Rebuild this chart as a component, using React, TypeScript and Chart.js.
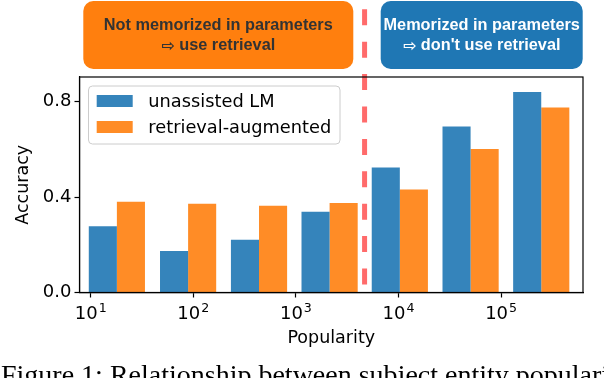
import React, { useEffect, useRef } from 'react';
import { Chart, registerables } from 'chart.js';

Chart.register(...registerables);

// ---- data ----
const popularityBins = [18, 89, 437, 2130, 10300, 50400, 246000];
const unassistedLM = [0.278, 0.174, 0.221, 0.339, 0.524, 0.696, 0.841];
const retrievalAugmented = [0.381, 0.372, 0.364, 0.375, 0.432, 0.602, 0.776];
const seriesLabels = ['unassisted LM', 'retrieval-augmented'];
const xTickValues = [10, 100, 1000, 10000, 100000];
const xTickBase = '10';
const xTickExponents = ['1', '2', '3', '4', '5'];
const yTickValues = [0, 0.4, 0.8];
const yTickLabels = ['0.0', '0.4', '0.8'];
const thresholdPopularity = 4670;
const leftBoxLines = ['Not memorized in parameters', '⇨ use retrieval'];
const rightBoxLines = ['Memorized in parameters', "⇨ don't use retrieval"];
const xTitle = 'Popularity';
const yTitle = 'Accuracy';
const caption = 'Figure 1: Relationship between subject entity popularity and';

const BLUE = 'rgba(31,119,180,0.9)';
const ORANGE = 'rgba(255,127,14,0.9)';
const SANS = '"DejaVu Sans", sans-serif';
const BOXFONT = 'bold 16.3px "Liberation Sans", Arial, sans-serif';
const ARROWFONT = 'bold 16px "DejaVu Sans", sans-serif';

const decorPlugin = {
  id: 'decor',
  afterDatasetsDraw(chart: any) {
    const ctx = chart.ctx;
    const xs = chart.scales.x;
    const tx = xs.getPixelForValue(thresholdPopularity);
    ctx.save();
    ctx.strokeStyle = '#ff6b6b';
    ctx.lineWidth = 5;
    ctx.setLineDash([16, 16.4]);
    ctx.beginPath();
    ctx.moveTo(tx, 9.3);
    ctx.lineTo(tx, 285);
    ctx.stroke();
    ctx.restore();
  },
  afterDraw(chart: any) {
    const ctx = chart.ctx;
    const a = chart.chartArea;
    const xs = chart.scales.x;
    ctx.save();
    // frame
    ctx.strokeStyle = '#000';
    ctx.lineWidth = 1.2;
    ctx.strokeRect(a.left, a.top, a.right - a.left, a.bottom - a.top);

    // x tick labels: 10 with superscript exponent
    ctx.fillStyle = '#000';
    ctx.textBaseline = 'alphabetic';
    ctx.textAlign = 'left';
    xTickValues.forEach((v, i) => {
      const px = xs.getPixelForValue(v);
      ctx.font = `18px ${SANS}`;
      const wb = ctx.measureText(xTickBase).width;
      ctx.font = `12.6px ${SANS}`;
      const we = ctx.measureText(xTickExponents[i]).width;
      const x0 = px - (wb + we + 1) / 2;
      ctx.font = `18px ${SANS}`;
      ctx.fillText(xTickBase, x0, 319);
      ctx.font = `12.6px ${SANS}`;
      ctx.fillText(xTickExponents[i], x0 + wb + 1, 311.5);
    });

    // legend
    const lx = 88.5, ly = 86, lw = 251.5, lh = 58;
    ctx.beginPath();
    ctx.roundRect(lx, ly, lw, lh, 4);
    ctx.fillStyle = 'rgba(255,255,255,0.8)';
    ctx.fill();
    ctx.strokeStyle = '#cccccc';
    ctx.lineWidth = 1;
    ctx.stroke();
    ctx.font = `17.8px ${SANS}`;
    ctx.textBaseline = 'middle';
    ctx.textAlign = 'left';
    chart.data.datasets.forEach((ds: any, i: number) => {
      const cy = 101 + i * 26;
      ctx.fillStyle = ds.backgroundColor;
      ctx.fillRect(96.7, cy - 6, 36, 12);
      ctx.fillStyle = '#000';
      ctx.fillText(ds.label, 148.3, cy + 1);
    });

    // axis titles
    ctx.fillStyle = '#000';
    ctx.font = `17.5px ${SANS}`;
    ctx.textAlign = 'center';
    ctx.textBaseline = 'middle';
    ctx.fillText(xTitle, (a.left + a.right) / 2, 338.5);
    ctx.save();
    ctx.translate(23, (a.top + a.bottom) / 2);
    ctx.rotate(-Math.PI / 2);
    ctx.fillText(yTitle, 0, 0);
    ctx.restore();

    // top boxes
    const drawLine = (t: string, cx: number, cy: number) => {
      ctx.textAlign = 'left';
      ctx.textBaseline = 'middle';
      if (t.startsWith('⇨')) {
        const arrow = '⇨';
        const rest = t.slice(1);
        ctx.font = ARROWFONT;
        const wa = ctx.measureText(arrow).width;
        ctx.font = BOXFONT;
        const wr = ctx.measureText(rest).width;
        const x0 = cx - (wa + wr) / 2;
        ctx.font = ARROWFONT;
        ctx.fillText(arrow, x0, cy + 1);
        ctx.font = BOXFONT;
        ctx.fillText(rest, x0 + wa, cy);
      } else {
        ctx.font = BOXFONT;
        const w = ctx.measureText(t).width;
        ctx.fillText(t, cx - w / 2, cy);
      }
    };
    const drawBox = (x0: number, x1: number, fill: string, color: string, lines: string[]) => {
      ctx.beginPath();
      ctx.roundRect(x0, 1, x1 - x0, 68, 10);
      ctx.fillStyle = fill;
      ctx.fill();
      ctx.fillStyle = color;
      lines.forEach((t, i) => drawLine(t, (x0 + x1) / 2, 25.5 + i * 20.5));
    };
    drawBox(83.3, 353.3, '#ff7f0e', '#333333', leftBoxLines);
    drawBox(380.7, 582.7, '#1f77b4', '#ffffff', rightBoxLines);

    // caption
    ctx.fillStyle = '#000';
    ctx.font = `28px "Liberation Serif", "Times New Roman", serif`;
    ctx.textAlign = 'left';
    ctx.textBaseline = 'alphabetic';
    ctx.fillText(caption, 1, 384);
    ctx.restore();
  },
};

export default function App() {
  const ref = useRef<HTMLCanvasElement | null>(null);
  useEffect(() => {
    if (!ref.current) return;
    const chart = new Chart(ref.current, {
      type: 'bar',
      data: {
        datasets: [
          {
            label: seriesLabels[0],
            data: popularityBins.map((p, i) => ({ x: p, y: unassistedLM[i] })),
            backgroundColor: BLUE,
            categoryPercentage: 0.8,
            barPercentage: 1.0,
          },
          {
            label: seriesLabels[1],
            data: popularityBins.map((p, i) => ({ x: p, y: retrievalAugmented[i] })),
            backgroundColor: ORANGE,
            categoryPercentage: 0.8,
            barPercentage: 1.0,
          },
        ],
      } as any,
      options: {
        animation: false,
        responsive: false,
        devicePixelRatio: 1,
        layout: { padding: { left: 0, top: 77, right: 21, bottom: 0 } },
        plugins: { legend: { display: false }, tooltip: { enabled: false } },
        scales: {
          x: {
            type: 'logarithmic',
            min: 7.78,
            max: 628000,
            offset: false,
            grid: { display: true, drawOnChartArea: false, tickLength: 5, tickColor: '#000', tickWidth: 1.2, offset: false },
            border: { display: true, color: '#000', width: 1.2 },
            ticks: { display: false },
            afterBuildTicks: (s: any) => {
              s.ticks = xTickValues.map((v) => ({ value: v, major: false }));
            },
            afterFit: (s: any) => {
              s.height = 85.5;
            },
          },
          y: {
            type: 'linear',
            min: 0,
            max: 0.904,
            grid: { display: true, drawOnChartArea: false, tickLength: 5, tickColor: '#000', tickWidth: 1.2 },
            border: { display: true, color: '#000', width: 1.2 },
            ticks: {
              color: '#000',
              font: { family: SANS, size: 18 },
              padding: 3,
              callback: (_v: any, i: number) => yTickLabels[i],
            },
            afterBuildTicks: (s: any) => {
              s.ticks = yTickValues.map((v) => ({ value: v }));
            },
            afterFit: (s: any) => {
              s.width = 79.5;
            },
          },
        },
      } as any,
      plugins: [decorPlugin],
    });
    return () => chart.destroy();
  }, []);
  return (
    <div style={{ position: 'fixed', left: 0, top: 0, width: 604, height: 378, overflow: 'hidden', background: '#fff' }}>
      <canvas ref={ref} width={604} height={378} style={{ display: 'block', width: 604, height: 378 }} />
    </div>
  );
}
